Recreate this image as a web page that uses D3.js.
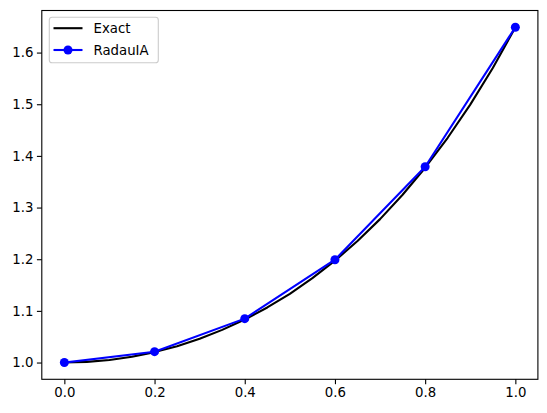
<!DOCTYPE html>
<html>
<head>
<meta charset="utf-8">
<script src="https://cdn.jsdelivr.net/npm/d3@7"></script>
<style>
  html, body { margin: 0; padding: 0; background: #ffffff; }
  svg { display: block; }
  text { font-family: "DejaVu Sans", sans-serif; fill: #000000; }
</style>
</head>
<body>
<svg id="chart" width="547" height="413"></svg>
<script>
const exactT = [0.00, 0.05, 0.10, 0.15, 0.20, 0.25, 0.30, 0.35, 0.40, 0.45, 0.50,
                0.55, 0.60, 0.65, 0.70, 0.75, 0.80, 0.85, 0.90, 0.95, 1.00];
const exactY = [1.0000, 1.0013, 1.0050, 1.0113, 1.0202, 1.0317, 1.0460, 1.0632, 1.0833, 1.1066, 1.1331,
                1.1633, 1.1972, 1.2352, 1.2776, 1.3248, 1.3771, 1.4351, 1.4993, 1.5702, 1.6487];
// RadauIA numerical solution
const radauT = [0.0, 0.2, 0.4, 0.6, 0.8, 1.0];
const radauY = [1.000, 1.021, 1.085, 1.199, 1.379, 1.649];
// Tick values
const xTicks = [0.0, 0.2, 0.4, 0.6, 0.8, 1.0];
const yTicks = [1.0, 1.1, 1.2, 1.3, 1.4, 1.5, 1.6];
const seriesNames = ["Exact", "RadauIA"];

const svg = d3.select("#chart");
const plotLeft = 41.8, plotRight = 537.9, plotTop = 10.5, plotBottom = 379.3;

const xMin = 0, xMax = 1;
const xPad = (xMax - xMin) * 0.05;
const allY = exactY.concat(radauY);
const yMin = d3.min(allY), yMax = d3.max(allY);
const yPad = (yMax - yMin) * 0.05;

const x = d3.scaleLinear().domain([xMin - xPad, xMax + xPad]).range([plotLeft, plotRight]);
const y = d3.scaleLinear().domain([yMin - yPad, yMax + yPad]).range([plotBottom, plotTop]);

const fontSize = 13.3;
const markerR = 4.5;

// Axes
const xAxis = d3.axisBottom(x).tickValues(xTicks).tickFormat(d3.format(".1f")).tickSize(4.9).tickPadding(3.5);
const yAxis = d3.axisLeft(y).tickValues(yTicks).tickFormat(d3.format(".1f")).tickSize(4.9).tickPadding(3.5);

const gx = svg.append("g").attr("transform", `translate(0,${plotBottom})`).call(xAxis);
const gy = svg.append("g").attr("transform", `translate(${plotLeft},0)`).call(yAxis);
[gx, gy].forEach(g => {
  g.select(".domain").remove();
  g.selectAll(".tick line").attr("stroke", "#000").attr("stroke-width", 1.1);
  g.selectAll(".tick text").style("font-family", "DejaVu Sans, sans-serif")
    .style("font-size", fontSize + "px").style("fill", "#000");
});

// Lines
const lineExact = d3.line().x((d, i) => x(exactT[i])).y(d => y(d));
svg.append("path").datum(exactY).attr("d", lineExact)
  .attr("fill", "none").attr("stroke", "#000000").attr("stroke-width", 2.1)
  .attr("stroke-linejoin", "round").attr("stroke-linecap", "square");

const lineRadau = d3.line().x((d, i) => x(radauT[i])).y(d => y(d));
svg.append("path").datum(radauY).attr("d", lineRadau)
  .attr("fill", "none").attr("stroke", "#0000ff").attr("stroke-width", 2.1)
  .attr("stroke-linejoin", "round").attr("stroke-linecap", "square");

svg.append("g").selectAll("circle").data(radauY).join("circle")
  .attr("cx", (d, i) => x(radauT[i])).attr("cy", d => y(d)).attr("r", markerR)
  .attr("fill", "#0000ff");

// Frame
svg.append("rect").attr("x", plotLeft).attr("y", plotTop)
  .attr("width", plotRight - plotLeft).attr("height", plotBottom - plotTop)
  .attr("fill", "none").attr("stroke", "#000").attr("stroke-width", 1.1);

// Legend
const lg = svg.append("g");
lg.append("rect").attr("x", 49.3).attr("y", 17.3).attr("width", 109).attr("height", 45.4)
  .attr("rx", 2.8).attr("ry", 2.8)
  .attr("fill", "#ffffff").attr("fill-opacity", 0.8)
  .attr("stroke", "#cccccc").attr("stroke-width", 1.1);
const rowsY = [28.2, 50];
const colors = ["#000000", "#0000ff"];
seriesNames.forEach((name, i) => {
  lg.append("line").attr("x1", 53.5).attr("x2", 82.5).attr("y1", rowsY[i]).attr("y2", rowsY[i])
    .attr("stroke", colors[i]).attr("stroke-width", 2.1);
  if (i === 1) {
    lg.append("circle").attr("cx", 68).attr("cy", rowsY[i]).attr("r", markerR).attr("fill", colors[i]);
  }
  lg.append("text").attr("x", 93.5).attr("y", rowsY[i]).attr("dy", "0.36em")
    .style("font-size", fontSize + "px").style("fill", "#000").text(name);
});
</script>
</body>
</html>
